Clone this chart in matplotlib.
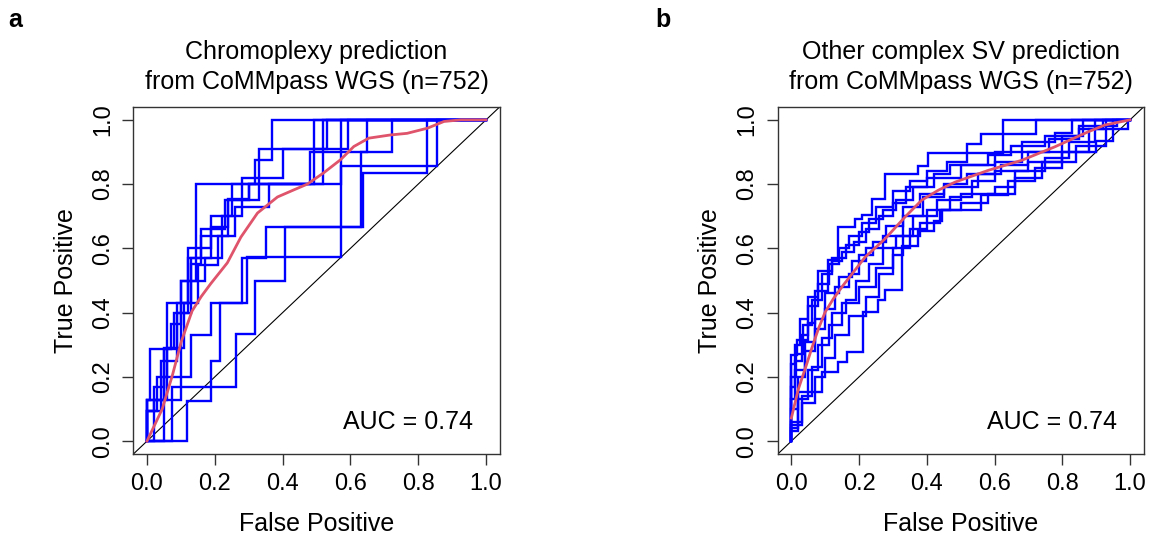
import matplotlib
matplotlib.use("Agg")
import matplotlib.pyplot as plt

plt.rcParams['font.family'] = ['Liberation Sans', 'DejaVu Sans']

# ---------------- data ----------------
tick_values = [0.0, 0.2, 0.4, 0.6, 0.8, 1.0]
tick_labels = ["0.0", "0.2", "0.4", "0.6", "0.8", "1.0"]

titles = ["Chromoplexy prediction\nfrom CoMMpass WGS (n=752)",
          "Other complex SV prediction\nfrom CoMMpass WGS (n=752)"]
panel_letters = ["a", "b"]
auc_labels = ["AUC = 0.74", "AUC = 0.74"]

# Panel a: per-fold ROC step curves (steps-pre: level tpr[i] held until fpr[i])
a_fpr = [
    [0, 0.075, 0.262, 0.32, 0.407, 0.638, 0.827, 1],
    [0, 0.02, 0.10, 0.144, 0.493, 1],
    [0, 0.03, 0.06, 0.13, 0.19, 0.25, 0.32, 0.369, 1],
    [0, 0.06, 0.11, 0.15, 0.21, 0.26, 0.36, 0.52, 1],
    [0, 0.04, 0.09, 0.12, 0.19, 0.24, 0.30, 0.48, 0.648, 1],
    [0, 0.01, 0.07, 0.10, 0.17, 0.22, 0.28, 0.33, 0.594, 1],
    [0, 0.119, 0.19, 0.215, 0.28, 0.35, 0.632, 0.724, 1],
    [0, 0.05, 0.13, 0.188, 0.296, 0.573, 0.855, 1],
    [0, 0.02, 0.05, 0.09, 0.12, 0.16, 0.23, 0.30, 0.573, 1],
    [0, 0.05, 0.08, 0.13, 0.16, 0.24, 0.33, 0.40, 0.532, 1],
]
a_tpr = [
    [0, 0, 0.168, 0.335, 0.50, 0.667, 0.835, 1],
    [0, 0, 0.127, 0.50, 0.80, 1],
    [0, 0.093, 0.20, 0.43, 0.57, 0.70, 0.80, 0.876, 1],
    [0, 0.127, 0.29, 0.43, 0.547, 0.637, 0.73, 0.80, 1],
    [0, 0.093, 0.25, 0.40, 0.60, 0.667, 0.753, 0.80, 0.90, 1],
    [0, 0.127, 0.287, 0.364, 0.50, 0.57, 0.70, 0.82, 0.91, 1],
    [0, 0, 0.124, 0.248, 0.43, 0.57, 0.667, 0.90, 1],
    [0, 0, 0.20, 0.33, 0.43, 0.572, 0.857, 1],
    [0, 0.093, 0.17, 0.287, 0.43, 0.57, 0.66, 0.75, 0.80, 1],
    [0, 0.127, 0.29, 0.40, 0.55, 0.637, 0.75, 0.82, 0.91, 1],
]
a_mean_fpr = [0, 0.045, 0.075, 0.101, 0.133, 0.16, 0.188, 0.237, 0.277, 0.326,
              0.385, 0.433, 0.473, 0.521, 0.571, 0.61, 0.654, 0.718, 0.767, 0.827,
              0.876, 0.926, 1.0]
a_mean_tpr = [0, 0.10, 0.205, 0.309, 0.405, 0.45, 0.49, 0.555, 0.635, 0.71,
              0.76, 0.782, 0.80, 0.835, 0.876, 0.917, 0.943, 0.953, 0.958, 0.974,
              0.995, 1.0, 1.0]

# Panel b
b_fpr = [
    [0, 0.02, 0.0915, 0.139, 0.163, 0.213, 0.257, 0.277, 0.326, 0.375, 0.42, 0.444, 0.469, 0.533, 0.60, 0.70, 0.80, 0.90, 0.95, 1.0],
    [0, 0.016, 0.05, 0.07, 0.109, 0.139, 0.188, 0.21, 0.237, 0.277, 0.375, 0.405, 0.626, 1],
    [0, 0.01, 0.03, 0.05, 0.08, 0.11, 0.14, 0.17, 0.21, 0.25, 0.30, 0.35, 0.40, 0.46, 0.52, 0.56, 0.724, 1],
    [0, 0.02, 0.04, 0.07, 0.10, 0.13, 0.17, 0.20, 0.24, 0.28, 0.33, 0.38, 0.45, 0.55, 0.62, 0.70, 0.80, 0.862, 1],
    [0, 0.03, 0.06, 0.09, 0.12, 0.16, 0.19, 0.23, 0.27, 0.31, 0.36, 0.43, 0.50, 0.60, 0.66, 0.75, 0.82, 0.897, 1],
    [0, 0.015, 0.035, 0.06, 0.09, 0.12, 0.15, 0.185, 0.22, 0.26, 0.30, 0.34, 0.40, 0.50, 0.60, 0.68, 0.78, 0.828, 1],
    [0, 0.02, 0.05, 0.08, 0.11, 0.15, 0.20, 0.25, 0.30, 0.35, 0.40, 0.56, 0.64, 0.72, 0.80, 0.88, 0.995, 1],
    [0, 0.01, 0.025, 0.05, 0.08, 0.12, 0.16, 0.20, 0.23, 0.27, 0.31, 0.36, 0.42, 0.47, 0.58, 0.65, 0.75, 0.85, 0.961, 1],
    [0, 0.03, 0.07, 0.10, 0.13, 0.17, 0.22, 0.26, 0.30, 0.33, 0.38, 0.44, 0.50, 0.58, 0.66, 0.74, 0.84, 0.93, 1],
    [0, 0.01, 0.04, 0.07, 0.10, 0.14, 0.18, 0.22, 0.27, 0.33, 0.39, 0.45, 0.52, 0.60, 0.68, 0.76, 0.85, 0.92, 1],
]
b_tpr = [
    [0, 0.033, 0.153, 0.215, 0.246, 0.277, 0.402, 0.438, 0.469, 0.607, 0.654, 0.685, 0.72, 0.76, 0.81, 0.84, 0.87, 0.90, 0.935, 1.0],
    [0, 0.268, 0.315, 0.367, 0.466, 0.565, 0.667, 0.69, 0.703, 0.753, 0.833, 0.855, 0.896, 1.0],
    [0, 0.17, 0.25, 0.33, 0.42, 0.49, 0.55, 0.60, 0.64, 0.68, 0.73, 0.78, 0.81, 0.84, 0.87, 0.926, 0.957, 1],
    [0, 0.10, 0.20, 0.28, 0.35, 0.41, 0.48, 0.52, 0.58, 0.62, 0.67, 0.73, 0.77, 0.79, 0.83, 0.86, 0.90, 0.95, 1],
    [0, 0.06, 0.14, 0.23, 0.32, 0.40, 0.44, 0.50, 0.55, 0.60, 0.64, 0.70, 0.75, 0.77, 0.79, 0.84, 0.88, 0.93, 1],
    [0, 0.20, 0.27, 0.36, 0.44, 0.52, 0.56, 0.59, 0.62, 0.66, 0.70, 0.74, 0.79, 0.82, 0.86, 0.90, 0.93, 0.96, 1],
    [0, 0.04, 0.13, 0.22, 0.30, 0.36, 0.43, 0.48, 0.54, 0.60, 0.66, 0.72, 0.765, 0.81, 0.85, 0.90, 0.97, 1],
    [0, 0.24, 0.30, 0.38, 0.45, 0.53, 0.57, 0.61, 0.65, 0.69, 0.72, 0.75, 0.79, 0.83, 0.86, 0.89, 0.92, 0.95, 0.98, 1],
    [0, 0.05, 0.12, 0.20, 0.26, 0.33, 0.39, 0.45, 0.52, 0.58, 0.64, 0.68, 0.72, 0.74, 0.77, 0.82, 0.87, 0.92, 1],
    [0, 0.13, 0.22, 0.31, 0.38, 0.46, 0.51, 0.56, 0.60, 0.64, 0.70, 0.76, 0.80, 0.83, 0.87, 0.90, 0.94, 0.97, 1],
]
b_mean_fpr = [0, 0.021, 0.041, 0.060, 0.080, 0.10, 0.124, 0.153, 0.218, 0.277, 0.336,
              0.385, 0.434, 0.483, 0.582, 0.68, 0.778, 0.877, 0.926, 1.0]
b_mean_tpr = [0.072, 0.163, 0.226, 0.288, 0.35, 0.402, 0.443, 0.485, 0.573, 0.63, 0.698,
              0.75, 0.781, 0.806, 0.843, 0.874, 0.916, 0.963, 0.984, 1.0]

# ---------------- figure ----------------
W, H = 1151, 538
fig = plt.figure(figsize=(W / 100, H / 100), dpi=100)


def rect(l, r, t, b):
    return [l / W, 1 - b / H, (r - l) / W, (b - t) / H]


axes = [fig.add_axes(rect(133.4, 499.6, 107, 454)),
        fig.add_axes(rect(777.8, 1143.5, 107, 454))]

panels = [(a_fpr, a_tpr, a_mean_fpr, a_mean_tpr),
          (b_fpr, b_tpr, b_mean_fpr, b_mean_tpr)]

BLUE = "#0000FF"
RED = "#DF536B"

for i, ax in enumerate(axes):
    fprs, tprs, mfpr, mtpr = panels[i]
    ax.set_xlim(-0.04, 1.04)
    ax.set_ylim(-0.04, 1.04)
    ax.axline((0, 0), (1, 1), color="black", lw=0.8, zorder=1)
    for fx, ty in zip(fprs, tprs):
        ax.plot(fx, ty, drawstyle="steps-pre", color=BLUE, lw=1.7, zorder=2,
                solid_joinstyle="miter")
    ax.plot(mfpr, mtpr, color=RED, lw=2.0, zorder=3, solid_joinstyle="round")
    ax.text(0.77, 0.06, auc_labels[i], fontsize=18, ha="center", va="center")

    ax.set_xticks(tick_values)
    ax.set_xticklabels(tick_labels)
    ax.set_yticks(tick_values)
    ax.set_yticklabels(tick_labels, rotation=90, va="center")
    ax.tick_params(axis="both", direction="out", length=8, width=1,
                   labelsize=17, color="#333333")
    ax.tick_params(axis="x", pad=6)
    ax.tick_params(axis="y", pad=6)
    for s in ax.spines.values():
        s.set_color("#333333")
        s.set_linewidth(1.0)
    ax.set_xlabel("False Positive", fontsize=18, labelpad=12)
    ax.set_ylabel("True Positive", fontsize=18, labelpad=10)
    ax.set_title(titles[i], fontsize=18, pad=13, linespacing=1.3)

fig.text(8 / W, 1 - 20 / H, panel_letters[0], fontsize=18, fontweight="bold",
         ha="left", va="center")
fig.text(655 / W, 1 - 20 / H, panel_letters[1], fontsize=18, fontweight="bold",
         ha="left", va="center")

fig.savefig("out.png", dpi=100)
